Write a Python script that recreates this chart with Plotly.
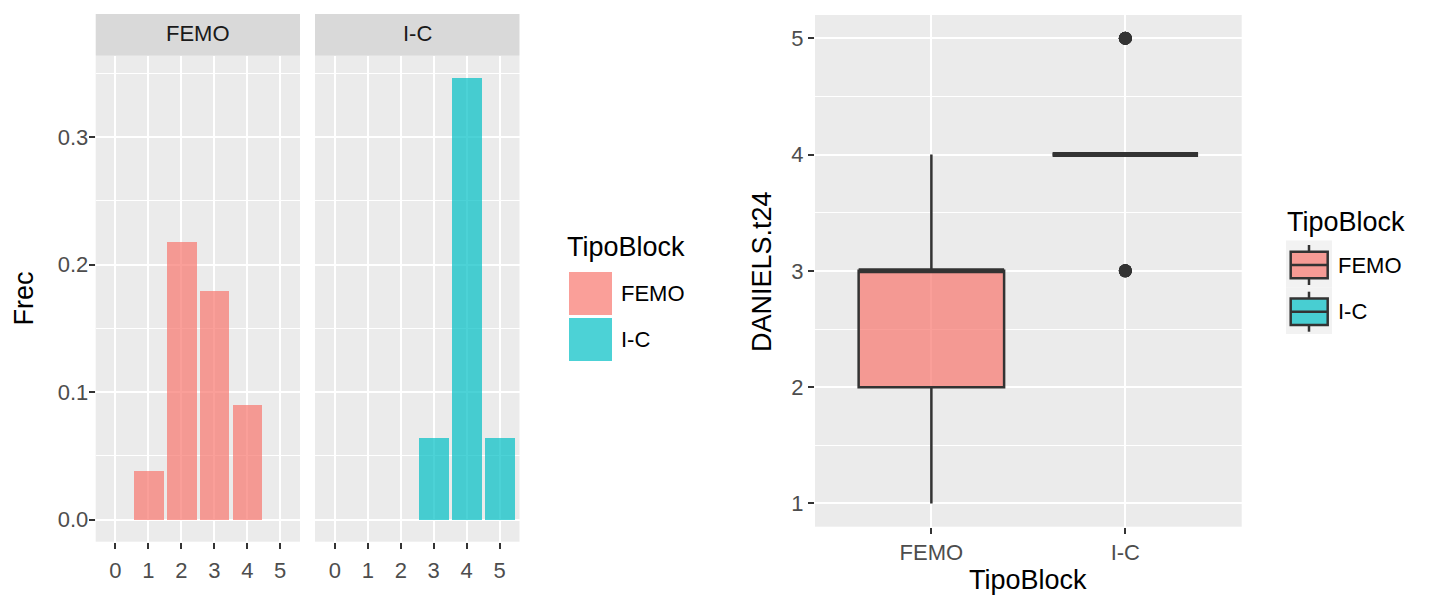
import numpy as np
import plotly.graph_objects as go

W, H = 1432, 597
FONT = "Liberation Sans, Arial, sans-serif"

# Scores observed for DANIELS.t24 and the number of cases per block type
scores = [0, 1, 2, 3, 4, 5]
score_labels = ["0", "1", "2", "3", "4", "5"]
groups = ["FEMO", "I-C"]
femo_counts = [0, 3, 17, 14, 7, 0]
ic_counts = [0, 0, 0, 5, 27, 5]

counts = {"FEMO": np.array(femo_counts), "I-C": np.array(ic_counts)}
total = sum(c.sum() for c in counts.values())
frec = {g: counts[g] / total for g in groups}
raw = {g: np.repeat(scores, counts[g]) for g in groups}

fills = {"FEMO": "rgba(248,118,109,0.7)", "I-C": "rgba(0,191,196,0.7)"}
DARK = "#333333"
TICK_GREY = "#4D4D4D"
PANEL = "#EBEBEB"
TEXT_SIZE = 22
TITLE_SIZE = 27


def fx(x):
    return x / W


def fy(y):
    return 1 - y / H


fig = go.Figure()

# Faceted frequency bars
for i, g in enumerate(groups):
    ax = "" if i == 0 else "2"
    fig.add_trace(go.Bar(
        x=score_labels, y=frec[g], width=0.9,
        marker=dict(color=fills[g], line=dict(width=0)),
        xaxis="x" + ax, yaxis="y" + ax, showlegend=False, name=g,
    ))

# Box plots of the raw scores
for g in groups:
    fig.add_trace(go.Box(
        x=[g] * len(raw[g]), y=raw[g], name=g,
        xaxis="x3", yaxis="y3",
        fillcolor=fills[g], line=dict(color=DARK, width=2.5),
        marker=dict(color=DARK, size=13, line=dict(width=0)),
        boxpoints="outliers", pointpos=0, jitter=0,
        width=0.75, whiskerwidth=0, showlegend=False,
    ))

tick_font = dict(family=FONT, size=TEXT_SIZE, color=TICK_GREY)
grid_major = dict(showgrid=True, gridcolor="white", gridwidth=2.2, zeroline=False, showline=False)
tick_style = dict(ticks="outside", ticklen=6, tickwidth=1.5, tickcolor=DARK, tickfont=tick_font)

x_fac = dict(type="category", categoryorder="array", categoryarray=score_labels,
             range=[-0.6, 5.6], **grid_major, **tick_style, ticklabelstandoff=3)
y_fac = dict(range=[-0.0173, 0.3635], tickmode="linear", tick0=0, dtick=0.1, tickformat=".1f",
             minor=dict(tickmode="linear", tick0=0, dtick=0.05, showgrid=True,
                        gridcolor="white", gridwidth=1.1),
             **grid_major)

fig.update_layout(
    width=W, height=H,
    margin=dict(l=0, r=0, t=0, b=0),
    paper_bgcolor="white", plot_bgcolor=PANEL,
    bargap=0, boxmode="overlay",
    font=dict(family=FONT, color="black"),
    xaxis=dict(domain=[fx(95.7), fx(300)], anchor="y", **x_fac),
    xaxis2=dict(domain=[fx(315), fx(519.5)], anchor="y2", **x_fac),
    yaxis=dict(domain=[fy(541.7), fy(56)], anchor="x", **y_fac, **tick_style, ticklabelstandoff=-4),
    yaxis2=dict(domain=[fy(541.7), fy(56)], anchor="x2", matches="y", showticklabels=False,
                ticks="", **{k: v for k, v in y_fac.items() if k != "range"}),
    xaxis3=dict(domain=[fx(815), fx(1241.7)], anchor="y3", type="category",
                categoryorder="array", categoryarray=groups, range=[-0.6, 1.6],
                **grid_major, **tick_style, ticklabelstandoff=0),
    yaxis3=dict(domain=[fy(526.7), fy(15)], anchor="x3", range=[0.8, 5.2],
                tickmode="linear", tick0=1, dtick=1,
                minor=dict(tickmode="linear", tick0=0.5, dtick=0.5, showgrid=True,
                           gridcolor="white", gridwidth=1.1),
                **grid_major, **tick_style, ticklabelstandoff=0),
)

shapes = []
annotations = []

# Facet strips
for g, (x0, x1) in zip(groups, [(95.7, 300), (315, 519.5)]):
    shapes.append(dict(type="rect", xref="paper", yref="paper", layer="below",
                       x0=fx(x0), x1=fx(x1), y0=fy(55.7), y1=fy(14),
                       fillcolor="#D9D9D9", line=dict(width=0)))
    annotations.append(dict(text=g, xref="paper", yref="paper", x=fx((x0 + x1) / 2), y=fy(33),
                            showarrow=False, xanchor="center", yanchor="middle",
                            font=dict(family=FONT, size=TEXT_SIZE, color="#1A1A1A")))

# Median segments drawn thicker over the boxes
for i, g in enumerate(groups):
    med = float(np.median(raw[g]))
    shapes.append(dict(type="line", xref="x3", yref="y3", x0=i - 0.375, x1=i + 0.375,
                       y0=med, y1=med, line=dict(color=DARK, width=5)))

# Axis titles
title_font = dict(family=FONT, size=TITLE_SIZE, color="black")
annotations += [
    dict(text="Frec", xref="paper", yref="paper", x=fx(23.5), y=fy(299), textangle=-90,
         showarrow=False, xanchor="center", yanchor="middle", font=title_font),
    dict(text="DANIELS.t24", xref="paper", yref="paper", x=fx(762), y=fy(271), textangle=-90,
         showarrow=False, xanchor="center", yanchor="middle", font=title_font),
    dict(text="TipoBlock", xref="paper", yref="paper", x=fx(1028), y=fy(580),
         showarrow=False, xanchor="center", yanchor="middle", font=title_font),
]

label_font = dict(family=FONT, size=TEXT_SIZE, color="black")

# Legend for the bar facets
annotations.append(dict(text="TipoBlock", xref="paper", yref="paper", x=fx(565), y=fy(247),
                        showarrow=False, xanchor="left", yanchor="middle", font=title_font))
for k, g in enumerate(groups):
    top = 272 + k * 46
    shapes.append(dict(type="rect", xref="paper", yref="paper",
                       x0=fx(569), x1=fx(612), y0=fy(top + 43), y1=fy(top),
                       fillcolor=fills[g], line=dict(width=0)))
    annotations.append(dict(text=g, xref="paper", yref="paper", x=fx(619), y=fy(top + 21.5),
                            showarrow=False, xanchor="left", yanchor="middle", font=label_font))

# Legend for the box plots
annotations.append(dict(text="TipoBlock", xref="paper", yref="paper", x=fx(1285), y=fy(222),
                        showarrow=False, xanchor="left", yanchor="middle", font=title_font))
for k, g in enumerate(groups):
    top = 240.5 + k * 46.7
    kx0, kx1 = 1286, 1332
    cx = (kx0 + kx1) / 2
    bx0, bx1 = 1290.7, 1327.7
    shapes.append(dict(type="rect", xref="paper", yref="paper", layer="below",
                       x0=fx(kx0), x1=fx(kx1), y0=fy(top + 46.7), y1=fy(top),
                       fillcolor="#F2F2F2", line=dict(width=0)))
    for ya, yb in [(top + 4.5, top + 11.2), (top + 37.8, top + 44.5)]:
        shapes.append(dict(type="line", xref="paper", yref="paper",
                           x0=fx(cx), x1=fx(cx), y0=fy(ya), y1=fy(yb),
                           line=dict(color=DARK, width=2.5)))
    shapes.append(dict(type="rect", xref="paper", yref="paper",
                       x0=fx(bx0), x1=fx(bx1), y0=fy(top + 37.8), y1=fy(top + 11.2),
                       fillcolor=fills[g], line=dict(color=DARK, width=2.5)))
    shapes.append(dict(type="line", xref="paper", yref="paper",
                       x0=fx(bx0), x1=fx(bx1), y0=fy(top + 24.5), y1=fy(top + 24.5),
                       line=dict(color=DARK, width=2.5)))
    annotations.append(dict(text=g, xref="paper", yref="paper", x=fx(1336), y=fy(top + 24.5),
                            showarrow=False, xanchor="left", yanchor="middle", font=label_font))

fig.update_layout(shapes=shapes, annotations=annotations)

fig.write_html("out.html")
